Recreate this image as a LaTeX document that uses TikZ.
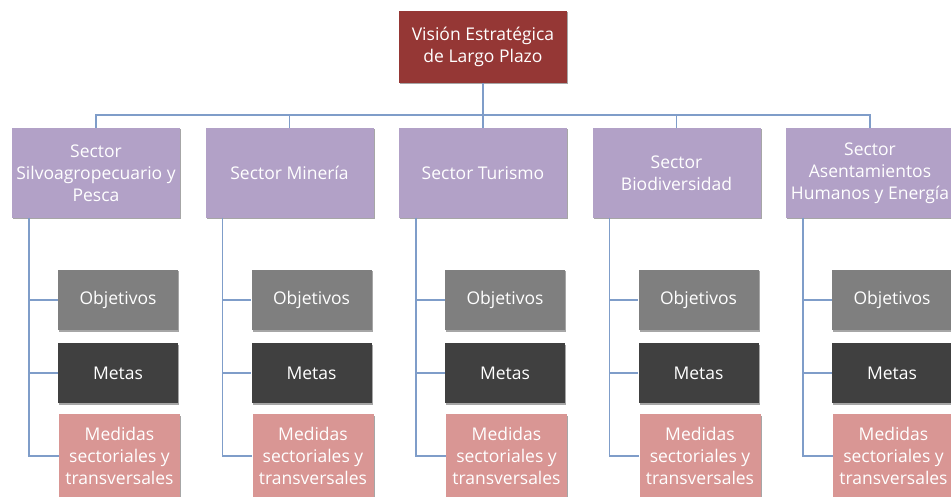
\documentclass[tikz,border=0pt]{standalone}
\usepackage{fontspec}
\setmainfont{Open Sans}
\usetikzlibrary{shadows}
\definecolor{topred}{HTML}{953735}
\definecolor{secpurple}{HTML}{B2A1C7}
\definecolor{objgray}{HTML}{7F7F7F}
\definecolor{metgray}{HTML}{404040}
\definecolor{medpink}{HTML}{D99694}
\definecolor{linkblue}{HTML}{7F9DC9}
\tikzset{
  boxbase/.style={rectangle, inner sep=0pt, align=center, text=white,
    font=\fontsize{17.5}{22}\selectfont,
    drop shadow={shadow xshift=1.2pt, shadow yshift=-1.5pt, opacity=0.35, fill=black}},
  topbox/.style={boxbase, fill=topred, minimum width=168pt, minimum height=72pt},
  secbox/.style={boxbase, fill=secpurple, minimum width=168pt, minimum height=90pt},
  objbox/.style={boxbase, fill=objgray, minimum width=120pt, minimum height=60pt},
  metbox/.style={boxbase, fill=metgray, minimum width=120pt, minimum height=60pt},
  medbox/.style={boxbase, fill=medpink, minimum width=121pt, minimum height=84pt},
  link/.style={draw=linkblue, line width=1.4pt}
}
\begin{document}
\begin{tikzpicture}[x=1pt,y=-1pt]
\clip (0,0) rectangle (951,497);
\fill[white] (0,0) rectangle (951,497);
\node[topbox] (top) at (483,47) {Visión Estratégica\\de Largo Plazo};
\coordinate (bus) at (0,115);
\foreach \i/\t in {0/{Sector\\Silvoagropecuario y\\Pesca},
                   1/{Sector Minería},
                   2/{Sector Turismo},
                   3/{Sector\\Biodiversidad},
                   4/{Sector\\Asentamientos\\Humanos y Energía}}{
  \pgfmathsetmacro{\dx}{193.5*\i}
  \node[secbox] (s\i) at (96+\dx,173) {\t};
  \coordinate (v\i) at (29+\dx,218);
  \node[objbox] (o\i) at (118+\dx,300) {Objetivos};
  \node[metbox] (m\i) at (118+\dx,373) {Metas};
  \node[medbox] (d\i) at (119.5+\dx,456) {Medidas\\sectoriales y\\transversales};
  \draw[link] (top.south) -- (top.south |- bus) -| (s\i.north);
  \draw[link] (v\i) |- (o\i.west);
  \draw[link] (v\i) |- (m\i.west);
  \draw[link] (v\i) |- (d\i.west);
}
\end{tikzpicture}
\end{document}
